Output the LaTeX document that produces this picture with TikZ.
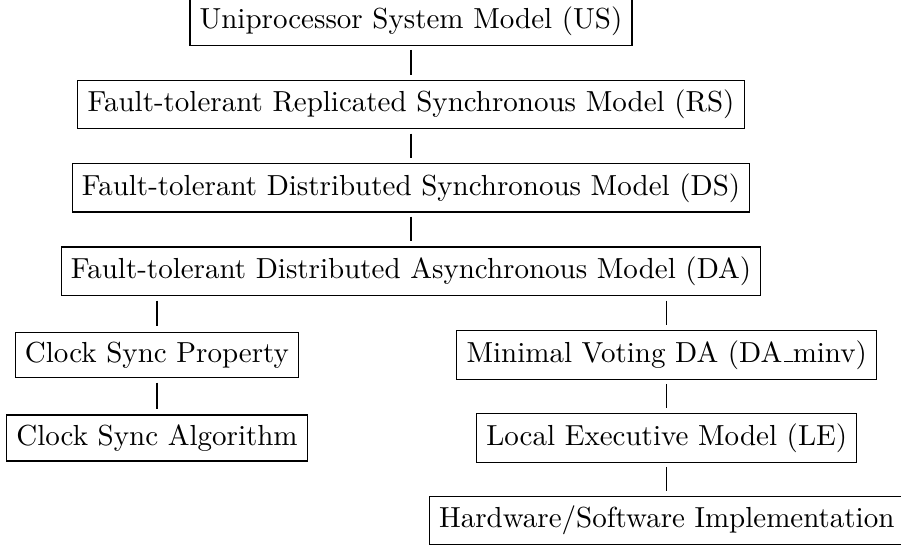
\documentclass[tikz,border=0pt]{standalone}
\begin{document}
\begin{tikzpicture}[x=1pt,y=1pt,
  modelbox/.style={draw, line width=0.4pt, inner sep=3.333pt, font=\fontsize{10}{12}\selectfont},
  link/.style={line width=0.4pt}]
\useasboundingbox (0,0) rectangle (310.69,188.28);
\node[modelbox] (us)  at (141.72,181.03) {Uniprocessor System Model (US)};
\node[modelbox] (rs)  at (141.72,152.17) {Fault-tolerant Replicated Synchronous Model (RS)};
\node[modelbox] (ds)  at (141.72,123.52) {Fault-tolerant Distributed Synchronous Model (DS)};
\node[modelbox] (da)  at (141.72,94.76)  {Fault-tolerant Distributed Asynchronous Model (DA)};
\node[modelbox] (csp) at (54.14,65.86)   {Clock Sync Property};
\node[modelbox] (csa) at (54.14,37.24)   {Clock Sync Algorithm};
\node[modelbox] (mv)  at (229.9,65.86)   {Minimal Voting DA (DA\kern.06em\rule{.3em}{0.4pt}minv)};
\node[modelbox] (le)  at (229.9,37.24)   {Local Executive Model (LE)};
\node[modelbox] (hw)  at (229.9,8.79)    {Hardware/Software Implementation};
\draw[link] ([yshift=-1.4pt]us.south) -- ([yshift=1.8pt]rs.north);
\draw[link] ([yshift=-1.4pt]rs.south) -- ([yshift=1.8pt]ds.north);
\draw[link] ([yshift=-1.4pt]ds.south) -- ([yshift=1.8pt]da.north);
\draw[link] ([yshift=-1.6pt]da.south -| csp.north) -- ([yshift=1.8pt]csp.north);
\draw[link] ([yshift=-1.6pt]da.south -| mv.north) -- ([yshift=1.8pt]mv.north);
\draw[link] ([yshift=-1.4pt]csp.south) -- ([yshift=1.8pt]csa.north);
\draw[link] ([yshift=-1.4pt]mv.south) -- ([yshift=1.8pt]le.north);
\draw[link] ([yshift=-1.4pt]le.south) -- ([yshift=1.8pt]hw.north);
\end{tikzpicture}
\end{document}
